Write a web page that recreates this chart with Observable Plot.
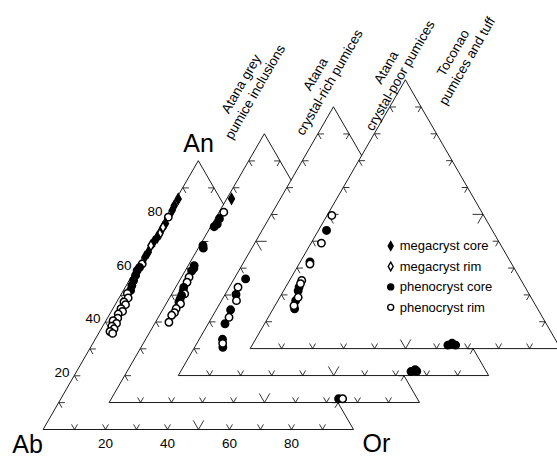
<!DOCTYPE html>
<html>
<head>
<meta charset="utf-8">
<script src="https://cdn.jsdelivr.net/npm/d3@7"></script>
<script src="https://cdn.jsdelivr.net/npm/@observablehq/plot@0.6"></script>
<style>
  html, body { margin: 0; padding: 0; background: #fff; }
  #chart { width: 557px; height: 457px; }
</style>
</head>
<body>
<div id="chart"></div>
<script>
// Feldspar compositions (mol% An, Or; Ab = 100 - An - Or) for four pumice groups,
// each drawn on its own An-Ab-Or ternary, stacked back to front.
const sampleTitles = [
  "Atana grey\npumice inclusions",
  "Atana\ncrystal-rich pumices",
  "Atana\ncrystal-poor pumices",
  "Toconao\npumices and tuff"
];
const kinds = ["mc", "mr", "pc", "pr"];
const kindLabels = ["megacryst core", "megacryst rim", "phenocryst core", "phenocryst rim"];
const axisTicks = [20, 40, 60, 80];
const vertexNames = ["An", "Ab", "Or"];

// [An, Or, kind]
const greyInclusions = [
  [85.9, 0.5, "mc"], [83.4, 0.5, "mc"], [81.6, 0.7, "mc"], [79.1, 0.7, "pr"],
  [76.7, 1.0, "mc"], [75.3, 0.9, "mr"], [72.9, 1.1, "mr"], [71.6, 0.9, "mc"],
  [69.8, 0.6, "mc"], [68.5, 0.4, "mr"], [66.0, 0.8, "mc"], [64.2, 0.6, "mc"],
  [61.7, 1.0, "pr"], [60.4, 0.8, "pc"], [59.2, 0.6, "pc"], [57.4, 1.0, "pc"],
  [55.5, 1.3, "pc"], [53.6, 1.7, "pc"], [51.8, 2.2, "pc"], [50.7, 1.7, "pr"],
  [49.0, 2.8, "pr"], [47.5, 2.2, "pr"], [46.5, 3.2, "pr"], [45.0, 2.5, "pr"],
  [44.0, 3.5, "pr"], [43.0, 2.6, "pr"], [41.5, 3.2, "pr"], [40.5, 2.2, "pr"],
  [39.5, 3.8, "pr"], [38.5, 2.8, "pr"], [37.5, 4.0, "pr"], [36.5, 3.2, "pr"],
  [35.8, 4.4, "pr"]
];
const crystalRich = [
  [75.9, 1.4, "mc"], [70.9, 1.4, "pr"], [68.5, 1.2, "pc"], [66.5, 1.5, "pc"],
  [65.5, 1.0, "pc"], [58.5, 0.9, "pc"], [57.5, 1.5, "pc"], [51.0, 1.8, "pc"],
  [50.0, 2.2, "pc"], [49.0, 2.0, "pc"], [46.7, 2.3, "pr"], [44.8, 2.6, "pr"],
  [42.9, 2.5, "pc"], [41.5, 3.0, "pc"], [40.5, 4.0, "pr"], [39.9, 3.3, "pc"],
  [38.5, 3.5, "pc"], [37.4, 3.7, "pc"], [36.8, 4.5, "pr"], [35.0, 4.0, "pr"],
  [33.5, 4.2, "pr"], [32.5, 3.8, "pr"], [29.9, 4.2, "pr"],
  [1.4, 73.2, "pc"], [1.4, 74.5, "pr"]
];
const crystalPoor = [
  [36.0, 3.6, "pc"], [32.9, 2.7, "pr"], [30.2, 3.4, "pc"], [27.9, 4.7, "pr"],
  [24.5, 4.5, "pc"], [21.7, 5.4, "pr"], [19.3, 5.3, "pc"], [13.5, 7.4, "pc"],
  [10.5, 9.0, "pc"], [12.0, 8.2, "pr"],
  [1.5, 74.2, "pc"], [2.2, 75.2, "pc"], [1.6, 76.0, "pc"]
];
const toconao = [
  [49.6, 1.4, "pr"], [44.0, 2.5, "pc"], [39.3, 3.2, "pr"], [32.3, 3.0, "pc"],
  [31.5, 3.4, "pr"], [25.4, 3.8, "pr"], [22.9, 4.2, "pc"], [21.5, 4.6, "pc"],
  [24.2, 4.0, "pr"], [17.9, 5.6, "pc"], [19.1, 5.8, "pr"], [14.8, 6.8, "pc"],
  [16.0, 6.0, "pr"],
  [1.3, 63.0, "pc"], [1.6, 64.3, "pc"], [1.3, 65.5, "pc"], [2.0, 64.0, "pc"]
];
const samples = [greyInclusions, crystalRich, crystalPoor, toconao];

// Layout: lower-left (Ab) corner of each triangle, in triangle-side percent units
const origins = [[0, 0], [21.3, 8.7], [43.6, 17.4], [66.8, 26.1]];
// centre of each two-line rotated title
const titleAt = [[65.8, 110.3], [89.8, 113.4], [112.6, 115.6], [134.2, 120.3]];
const legendAt = [112.0, 59.2];
const legendStep = 6.6;

const H = Math.sqrt(3) / 2;
const place = (k, an, or) => [origins[k][0] + or + an / 2, origins[k][1] + an * H];
const isDiamond = kind => kind === "mc" || kind === "mr";

const marks = [];
samples.forEach((pts, k) => {
  const tri = [place(k, 0, 0), place(k, 0, 100), place(k, 100, 0)];
  marks.push(Plot.line(tri, {x: d => d[0], y: d => d[1], fill: "white", stroke: "black",
    strokeWidth: 0.9, curve: "linear-closed"}));
  // grid-direction ticks every 10 %
  const ticks = [];
  for (let t = 10; t < 100; t += 10) {
    const L = t === 50 ? 3.4 : 1.9;
    const b = place(k, 0, t);            // Ab-Or edge
    ticks.push([b, [b[0] + L * 0.5, b[1] + L * H]], [b, [b[0] - L * 0.5, b[1] + L * H]]);
    const l = place(k, t, 0);            // Ab-An edge
    ticks.push([l, [l[0] + L, l[1]]], [l, [l[0] + L * 0.5, l[1] - L * H]]);
    const r = place(k, t, 100 - t);      // Or-An edge
    ticks.push([r, [r[0] - L, r[1]]], [r, [r[0] - L * 0.5, r[1] - L * H]]);
  }
  marks.push(Plot.link(ticks, {x1: d => d[0][0], y1: d => d[0][1], x2: d => d[1][0], y2: d => d[1][1],
    stroke: "black", strokeWidth: 0.8}));
  const pos = pts.map(([an, or, kind]) => ({p: place(k, an, or), kind}));
  marks.push(Plot.dot(pos, {x: d => d.p[0], y: d => d.p[1], symbol: "kind", fill: "kind",
    r: d => isDiamond(d.kind) ? 3.1 : 3.7, stroke: "black", strokeWidth: 1.5}));
});

// corner and scale labels on the front triangle
marks.push(Plot.text([vertexNames[0]], {x: place(0, 100, 0)[0], y: place(0, 100, 0)[1], dy: -17, fontSize: 25}));
marks.push(Plot.text([vertexNames[1]], {x: 0, y: 0, dx: -16, dy: 15, fontSize: 25}));
marks.push(Plot.text([vertexNames[2]], {x: 100, y: 0, dx: 23, dy: 14, fontSize: 25}));
marks.push(Plot.text(axisTicks, {x: t => place(0, 0, t)[0], y: t => place(0, 0, t)[1], dy: 14, fontSize: 13.5, text: d => d}));
marks.push(Plot.text(axisTicks, {x: t => place(0, t, 0)[0], y: t => place(0, t, 0)[1], dx: -5, dy: -3,
  textAnchor: "end", fontSize: 13.5, text: d => d}));

// group titles
marks.push(Plot.text(sampleTitles, {x: (d, i) => titleAt[i][0], y: (d, i) => titleAt[i][1],
  text: d => d, rotate: -60, fontSize: 13.5, lineHeight: 1.2}));

// legend
marks.push(Plot.dot(kinds, {x: legendAt[0], y: (d, i) => legendAt[1] - i * legendStep, symbol: d => d, fill: d => d,
  r: d => isDiamond(d) ? 2.6 : 3, stroke: "black", strokeWidth: 1.4}));
marks.push(Plot.text(kindLabels, {x: legendAt[0], y: (d, i) => legendAt[1] - i * legendStep, dx: 9,
  textAnchor: "start", fontSize: 13, text: d => d}));

const chart = Plot.plot({
  width: 557,
  height: 457,
  margin: 0,
  style: {fontFamily: "'Liberation Sans', Arial, sans-serif", color: "black", background: "white"},
  x: {domain: [-43 / 3.1, 514 / 3.1], axis: null},
  y: {domain: [-28 / 3.1, 429 / 3.1], axis: null},
  r: {type: "identity"},
  symbol: {domain: kinds, range: ["diamond", "diamond", "circle", "circle"]},
  color: {type: "ordinal", domain: kinds, range: ["black", "white", "black", "white"]},
  marks
});
document.getElementById("chart").appendChild(chart);
</script>
</body>
</html>
